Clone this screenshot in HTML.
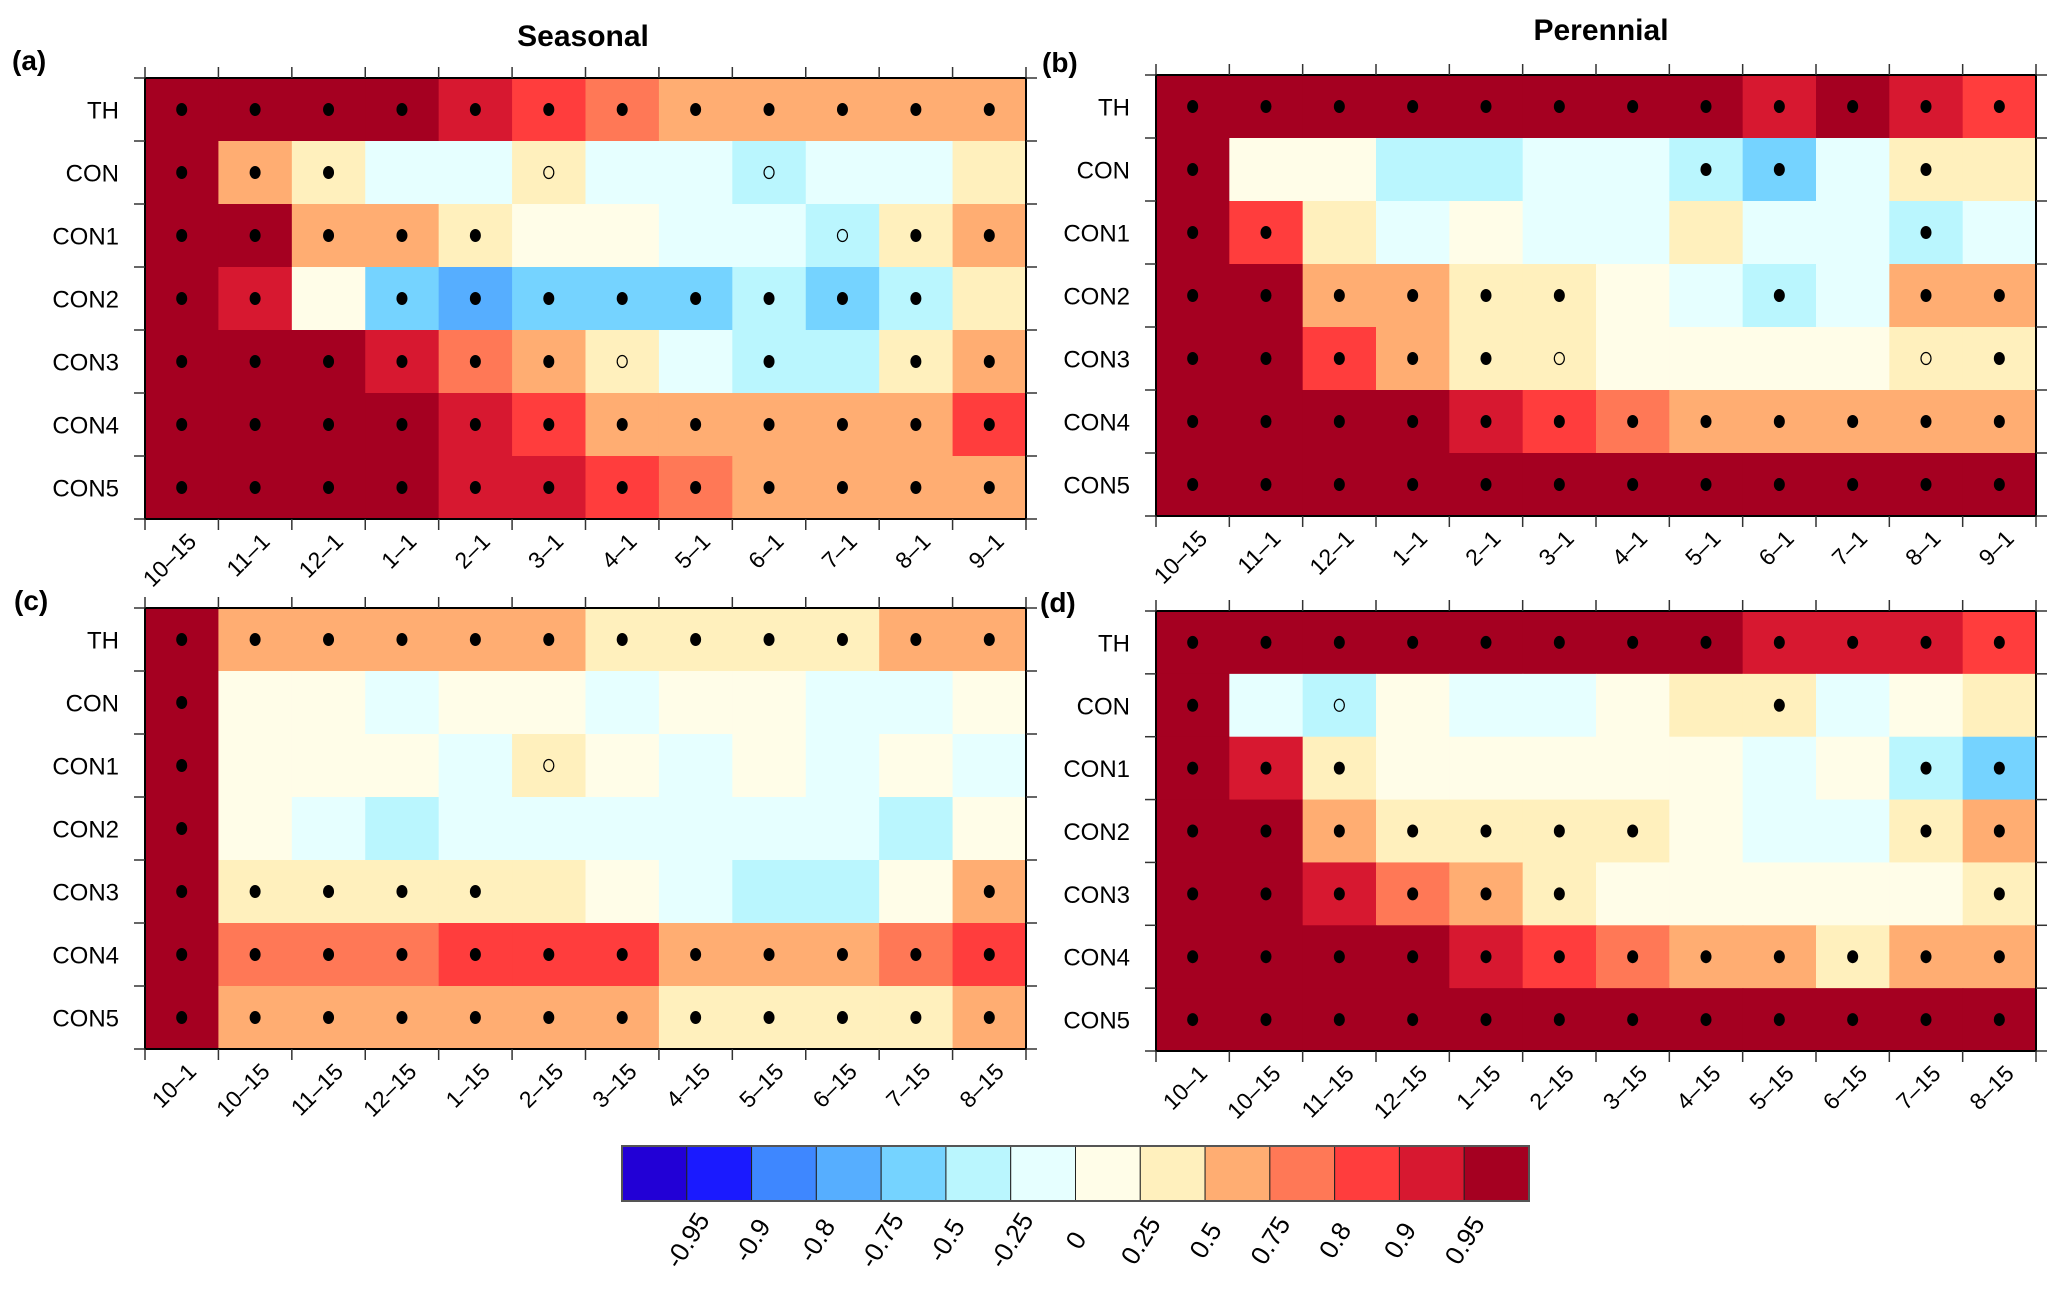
<!DOCTYPE html>
<html><head><meta charset="utf-8">
<style>
html,body{margin:0;padding:0;background:#fff;}
svg{display:block;font-family:"Liberation Sans",Arial,sans-serif;}
</style></head>
<body>
<svg id="chart" width="2067" height="1289" viewBox="0 0 2067 1289" xmlns="http://www.w3.org/2000/svg">
<text x="583" y="46" text-anchor="middle" font-size="30" font-weight="bold">Seasonal</text>
<text x="1601" y="40" text-anchor="middle" font-size="30" font-weight="bold">Perennial</text>
<text x="12" y="70" font-size="28" font-weight="bold">(a)</text>
<text x="1042" y="72" font-size="28" font-weight="bold">(b)</text>
<text x="14" y="610" font-size="28" font-weight="bold">(c)</text>
<text x="1040" y="612" font-size="28" font-weight="bold">(d)</text>
<g id="panels"></g>
<g id="colorbar"></g>
</svg>
<script>
const rowLabels = ["TH","CON","CON1","CON2","CON3","CON4","CON5"];
const colsTop = ["10–15","11–1","12–1","1–1","2–1","3–1","4–1","5–1","6–1","7–1","8–1","9–1"];
const colsBottom = ["10–1","10–15","11–15","12–15","1–15","2–15","3–15","4–15","5–15","6–15","7–15","8–15"];
const levelColors = ["#2200d6","#1a1aff","#3e87ff","#56aeff","#75d3ff","#baf6fe","#e6ffff","#fffde8","#fff0bd","#ffad72","#ff7856","#ff3d3d","#d71830","#a50021"];
const colorbarLabels = ["-0.95","-0.9","-0.8","-0.75","-0.5","-0.25","0","0.25","0.5","0.75","0.8","0.9","0.95"];

const levelsA = [
[13,13,13,13,12,11,10,9,9,9,9,9],
[13,9,8,6,6,8,6,6,5,6,6,8],
[13,13,9,9,8,7,7,6,6,5,8,9],
[13,12,7,4,3,4,4,4,5,4,5,8],
[13,13,13,12,10,9,8,6,5,5,8,9],
[13,13,13,13,12,11,9,9,9,9,9,11],
[13,13,13,13,12,12,11,10,9,9,9,9]];
const marksA = [
[1,1,1,1,1,1,1,1,1,1,1,1],
[1,1,1,0,0,2,0,0,2,0,0,0],
[1,1,1,1,1,0,0,0,0,2,1,1],
[1,1,0,1,1,1,1,1,1,1,1,0],
[1,1,1,1,1,1,2,0,1,0,1,1],
[1,1,1,1,1,1,1,1,1,1,1,1],
[1,1,1,1,1,1,1,1,1,1,1,1]];
const levelsB = [
[13,13,13,13,13,13,13,13,12,13,12,11],
[13,7,7,5,5,6,6,5,4,6,8,8],
[13,11,8,6,7,6,6,8,6,6,5,6],
[13,13,9,9,8,8,7,6,5,6,9,9],
[13,13,11,9,8,8,7,7,7,7,8,8],
[13,13,13,13,12,11,10,9,9,9,9,9],
[13,13,13,13,13,13,13,13,13,13,13,13]];
const marksB = [
[1,1,1,1,1,1,1,1,1,1,1,1],
[1,0,0,0,0,0,0,1,1,0,1,0],
[1,1,0,0,0,0,0,0,0,0,1,0],
[1,1,1,1,1,1,0,0,1,0,1,1],
[1,1,1,1,1,2,0,0,0,0,2,1],
[1,1,1,1,1,1,1,1,1,1,1,1],
[1,1,1,1,1,1,1,1,1,1,1,1]];
const levelsC = [
[13,9,9,9,9,9,8,8,8,8,9,9],
[13,7,7,6,7,7,6,7,7,6,6,7],
[13,7,7,7,6,8,7,6,7,6,7,6],
[13,7,6,5,6,6,6,6,6,6,5,7],
[13,8,8,8,8,8,7,6,5,5,7,9],
[13,10,10,10,11,11,11,9,9,9,10,11],
[13,9,9,9,9,9,9,8,8,8,8,9]];
const marksC = [
[1,1,1,1,1,1,1,1,1,1,1,1],
[1,0,0,0,0,0,0,0,0,0,0,0],
[1,0,0,0,0,2,0,0,0,0,0,0],
[1,0,0,0,0,0,0,0,0,0,0,0],
[1,1,1,1,1,0,0,0,0,0,0,1],
[1,1,1,1,1,1,1,1,1,1,1,1],
[1,1,1,1,1,1,1,1,1,1,1,1]];
const levelsD = [
[13,13,13,13,13,13,13,13,12,12,12,11],
[13,6,5,7,6,6,7,8,8,6,7,8],
[13,12,8,7,7,7,7,7,6,7,5,4],
[13,13,9,8,8,8,8,7,6,6,8,9],
[13,13,12,10,9,8,7,7,7,7,7,8],
[13,13,13,13,12,11,10,9,9,8,9,9],
[13,13,13,13,13,13,13,13,13,13,13,13]];
const marksD = [
[1,1,1,1,1,1,1,1,1,1,1,1],
[1,0,2,0,0,0,0,0,1,0,0,0],
[1,1,1,0,0,0,0,0,0,0,1,1],
[1,1,1,1,1,1,1,0,0,0,1,1],
[1,1,1,1,1,1,0,0,0,0,0,1],
[1,1,1,1,1,1,1,1,1,1,1,1],
[1,1,1,1,1,1,1,1,1,1,1,1]];

const NS = "http://www.w3.org/2000/svg";
function mk(tag, attrs, parent){
  const e = document.createElementNS(NS, tag);
  for (const k in attrs) e.setAttribute(k, attrs[k]);
  parent.appendChild(e);
  return e;
}
const panelsG = document.getElementById("panels");

function drawPanel(id, box, levels, marks, cols){
  const g = mk("g", {}, panelsG);
  
  
  const nR = rowLabels.length, nC = cols.length;
  const cw = (box.x1 - box.x0) / nC, rh = (box.y1 - box.y0) / nR;
  const xPos = c => box.x0 + c * cw;
  const yPos = r => box.y0 + r * rh;
  for (let r = 0; r < nR; r++){
    for (let c = 0; c < nC; c++){
      const cell = mk("rect", {x: xPos(c), y: yPos(r), width: cw + 0.6, height: rh + 0.6, fill: levelColors[levels[r][c]]}, g);
      
      
      const m = marks[r][c];
      const cx = xPos(c) + cw / 2, cy = yPos(r) + rh / 2;
      if (m === 1){
        const d = mk("ellipse", {cx: cx, cy: cy, rx: 5.5, ry: 6.5, fill: "#000"}, g);
        
        
      } else if (m === 2){
        const d = mk("ellipse", {cx: cx, cy: cy, rx: 5, ry: 6, fill: "none", stroke: "#000", "stroke-width": 1.2}, g);
        
        
      }
    }
  }
  mk("rect", {x: box.x0, y: box.y0, width: box.x1 - box.x0, height: box.y1 - box.y0, fill: "none", stroke: "#000", "stroke-width": 2}, g);
  for (let c = 0; c <= nC; c++){
    mk("line", {x1: xPos(c), x2: xPos(c), y1: box.y0 - 11, y2: box.y0, stroke: "#333", "stroke-width": 1.5}, g);
    mk("line", {x1: xPos(c), x2: xPos(c), y1: box.y1, y2: box.y1 + 11, stroke: "#333", "stroke-width": 1.5}, g);
  }
  for (let r = 0; r <= nR; r++){
    mk("line", {x1: box.x0 - 11, x2: box.x0, y1: yPos(r), y2: yPos(r), stroke: "#333", "stroke-width": 1.5}, g);
    mk("line", {x1: box.x1, x2: box.x1 + 11, y1: yPos(r), y2: yPos(r), stroke: "#333", "stroke-width": 1.5}, g);
  }
  for (let r = 0; r < nR; r++){
    const t = mk("text", {x: box.x0 - 26, y: yPos(r) + rh / 2 + 9, "text-anchor": "end", "font-size": 24}, g);
    t.textContent = rowLabels[r];
    
    
  }
  for (let c = 0; c < nC; c++){
    const tx = xPos(c) + cw / 2 + 16, ty = box.y1 + 24;
    const t = mk("text", {x: tx, y: ty, "text-anchor": "end", "font-size": 23, transform: "rotate(-45 " + tx + " " + ty + ")"}, g);
    t.textContent = cols[c];
    
    
  }
}
drawPanel("a", {x0:145, x1:1026, y0:78, y1:519}, levelsA, marksA, colsTop);
drawPanel("b", {x0:1156, x1:2036, y0:75, y1:516}, levelsB, marksB, colsTop);
drawPanel("c", {x0:145, x1:1026, y0:608, y1:1049}, levelsC, marksC, colsBottom);
drawPanel("d", {x0:1156, x1:2036, y0:611, y1:1051}, levelsD, marksD, colsBottom);

const cb = document.getElementById("colorbar");
const cbX0 = 622, cbX1 = 1529, cbY0 = 1146, cbY1 = 1201;
const bw = (cbX1 - cbX0) / levelColors.length;
levelColors.forEach((col, i) => {
  const r = mk("rect", {x: cbX0 + i * bw, y: cbY0, width: bw, height: cbY1 - cbY0, fill: col, stroke: "#222", "stroke-width": 1}, cb);
  
  
});
mk("rect", {x: cbX0, y: cbY0, width: cbX1 - cbX0, height: cbY1 - cbY0, fill: "none", stroke: "#555", "stroke-width": 2}, cb);
colorbarLabels.forEach((lab, i) => {
  const tx = cbX0 + (i + 1) * bw + 8, ty = 1245;
  const t = mk("text", {x: tx, y: ty, "text-anchor": "middle", "font-size": 26, transform: "rotate(-58 " + tx + " " + ty + ")"}, cb);
  t.textContent = lab;
  
  
});
</script>
</body></html>
